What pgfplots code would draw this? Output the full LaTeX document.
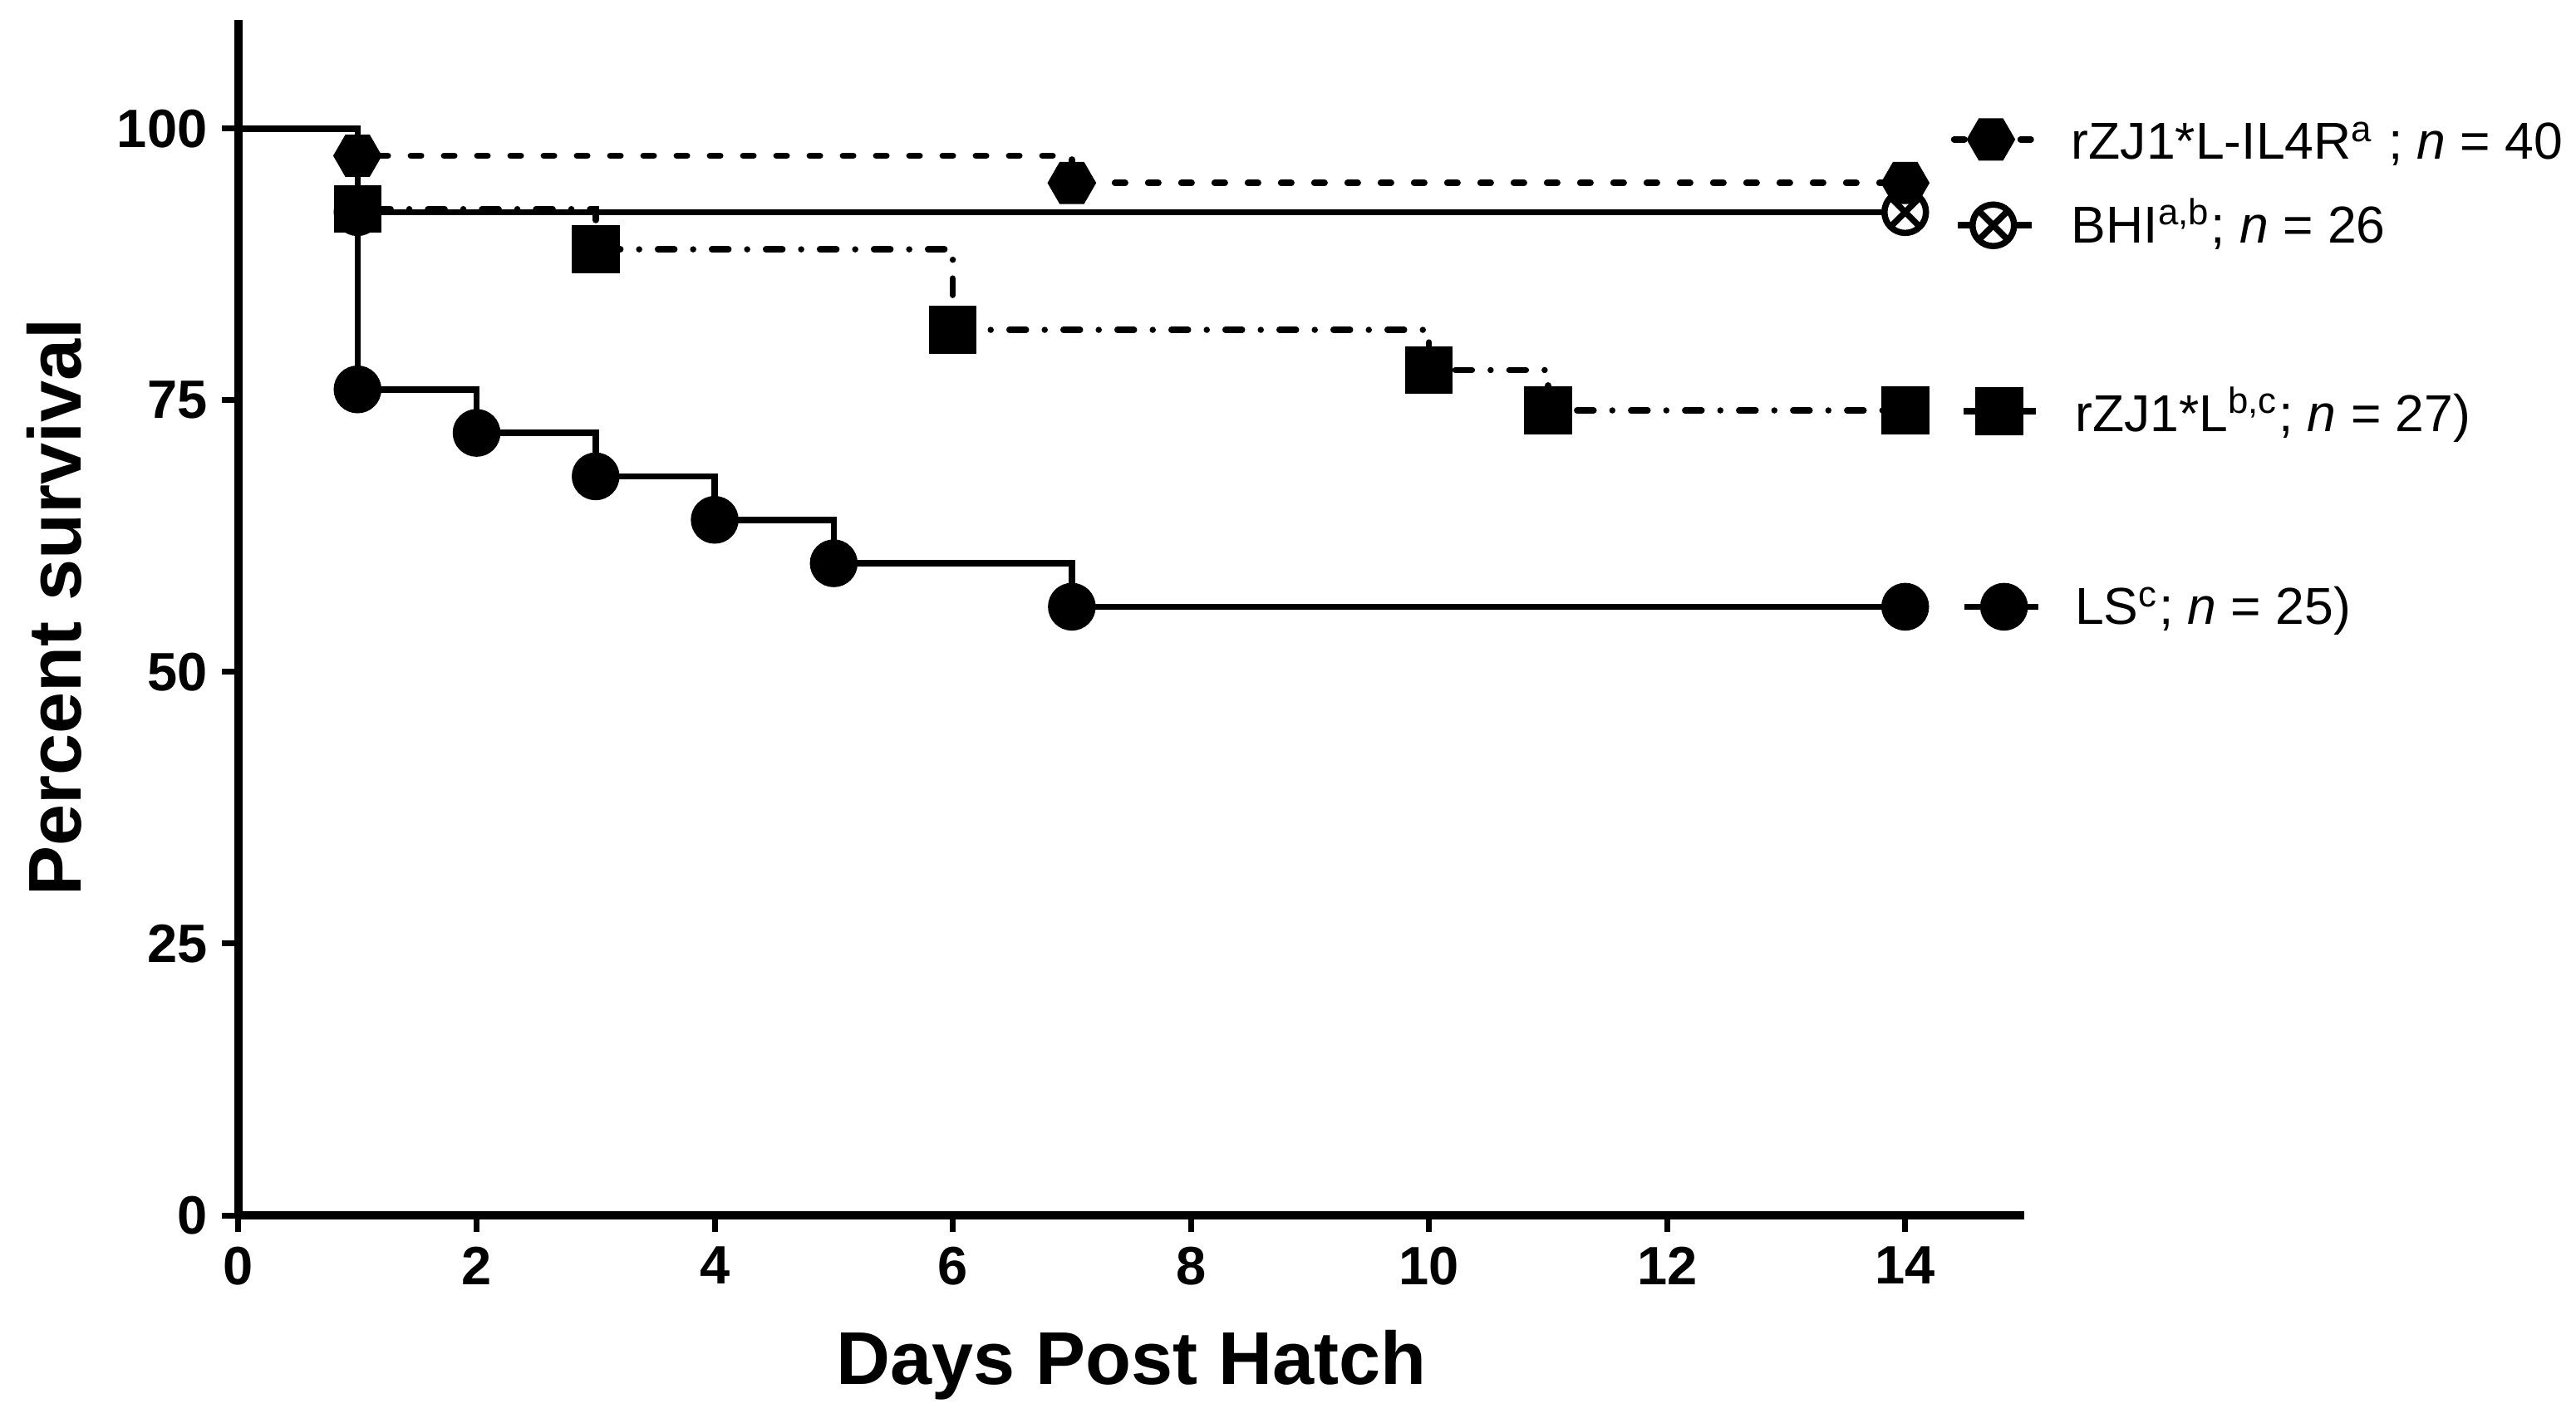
\documentclass[border=0pt]{standalone}
\usepackage{fontspec}
\setmainfont{Liberation Sans}
\usepackage{pgfplots}
\pgfplotsset{compat=1.18}
\usetikzlibrary{plotmarks}

% filled hexagon, points to the left and right
\pgfdeclareplotmark{hexagon*}{%
  \pgfpathmoveto{\pgfqpointpolar{0}{\pgfplotmarksize}}%
  \pgfpathlineto{\pgfqpointpolar{60}{\pgfplotmarksize}}%
  \pgfpathlineto{\pgfqpointpolar{120}{\pgfplotmarksize}}%
  \pgfpathlineto{\pgfqpointpolar{180}{\pgfplotmarksize}}%
  \pgfpathlineto{\pgfqpointpolar{240}{\pgfplotmarksize}}%
  \pgfpathlineto{\pgfqpointpolar{300}{\pgfplotmarksize}}%
  \pgfpathclose
  \pgfusepathqfillstroke}

\pgfplotsset{
  km/.style={const plot, line width=1.5pt, black, mark size=5pt,
    mark options={solid, fill=black}},
  dashA/.style={line cap=round, dash pattern=on 2.5pt off 5.5pt},
  dashB/.style={line cap=round, dash pattern=on 4pt off 4.5pt on 0pt off 4.5pt},
}
\tikzset{legtext/.style={anchor=west, inner sep=0pt,
  font=\fontsize{12.5}{12.5}\selectfont}}

\begin{document}
\begin{tikzpicture}
\begin{axis}[
  scale only axis,
  width=429.8pt, height=287.8pt,
  xmin=0, xmax=15, ymin=0, ymax=110,
  axis lines=left,
  axis line style={line width=1.9pt, -},
  xtick={0,2,4,6,8,10,12,14},
  ytick={0,25,50,75,100},
  tick align=outside,
  major tick length=4pt,
  tick style={line width=1.4pt, black},
  tick label style={font=\fontsize{13}{13}\selectfont\bfseries},
  /pgf/number format/assume math mode=true,
  xlabel={Days Post Hatch},
  ylabel={Percent survival},
  xlabel style={font=\fontsize{18}{18}\selectfont\bfseries,
    at={(axis description cs:0.5,-0.125)}, anchor=center},
  ylabel style={font=\fontsize{18}{18}\selectfont\bfseries,
    at={(axis description cs:-0.103,0.509)}, anchor=center},
  clip=false,
]
% LS
\addplot[km, mark=*, mark indices={2,3,4,5,6,7,8}] coordinates {
  (0,100) (1,76) (2,72) (3,68) (4,64) (5,60) (7,56) (14,56)};
% BHI
\addplot[km, mark=otimes*, mark options={solid, fill=white},
  mark indices={2,3}] coordinates {
  (0,100) (1,92.31) (14,92.31)};
% rZJ1*L
\addplot[km, dashB, mark=square*, mark indices={2,3,4,5,6,7}] coordinates {
  (0,100) (1,92.59) (3,88.89) (6,81.48) (10,77.78) (11,74.07) (14,74.07)};
% rZJ1*L-IL4R
\addplot[km, dashA, mark=hexagon*, mark indices={2,3,4}] coordinates {
  (0,100) (1,97.5) (7,95) (14,95)};

% legend samples next to the curve ends
\addplot[line width=1.5pt, black, dashA, mark=hexagon*, mark size=5pt,
  mark options={solid, fill=black}, mark indices={2}]
  coordinates {(14.41,99.0) (14.72,99.0) (15.07,99.0)};
\addplot[line width=1.5pt, black, mark=otimes*, mark size=5pt,
  mark options={solid, fill=white}, mark indices={2}]
  coordinates {(14.44,91.1) (14.74,91.1) (15.06,91.1)};
\addplot[line width=1.5pt, black, mark=square*, mark size=5pt,
  mark options={solid, fill=black}, mark indices={2}]
  coordinates {(14.49,74.0) (14.79,74.0) (15.1,74.0)};
\addplot[line width=1.5pt, black, mark=*, mark size=5pt,
  mark options={solid, fill=black}, mark indices={2}]
  coordinates {(14.5,56.0) (14.83,56.0) (15.12,56.0)};

\node[legtext] at (axis cs:15.39,98.6)
  {rZJ1*L-IL4R\textsuperscript{a} ; \textit{n} = 40};
\node[legtext] at (axis cs:15.39,91.2)
  {BHI\textsuperscript{a,b}; \textit{n} = 26};
\node[legtext] at (axis cs:15.42,73.7)
  {rZJ1*L\textsuperscript{b,c}; \textit{n} = 27)};
\node[legtext] at (axis cs:15.42,55.6)
  {LS\textsuperscript{c}; \textit{n} = 25)};
\end{axis}
\pgfresetboundingbox
\path (-57.4pt,-49.8pt) rectangle (562.6pt,292.6pt);
\end{tikzpicture}
\end{document}
